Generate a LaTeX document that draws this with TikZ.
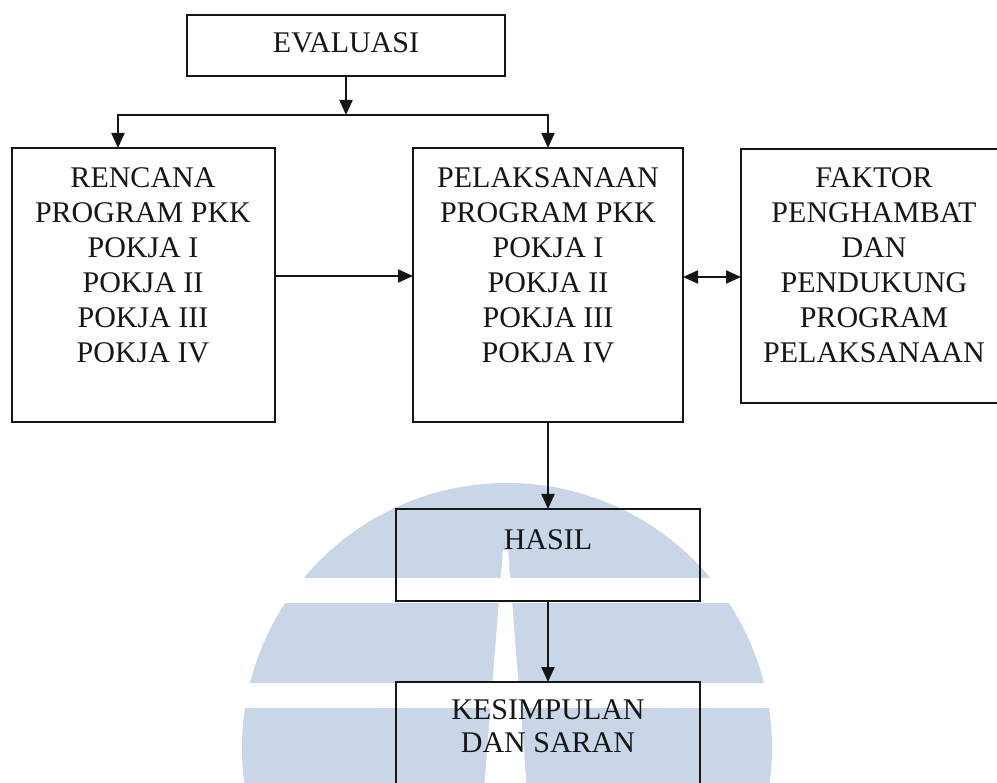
\documentclass[tikz,border=0pt]{standalone}
\usepackage{fontspec}
\setmainfont{Liberation Serif}
\usetikzlibrary{arrows.meta}
\definecolor{wm}{RGB}{200,214,232}
\definecolor{ink}{RGB}{22,22,22}
\begin{document}
\begin{tikzpicture}[x=1pt,y=-1pt,
  box/.style={draw=ink, line width=2.2pt, inner sep=0pt, outer sep=0pt, anchor=north west},
  lbl/.style={text=ink, font=\fontsize{30}{35}\selectfont, inner sep=0pt, align=center},
  conn/.style={draw=ink, line width=2.1pt},
  arr/.style={conn, -{Triangle[length=15pt,width=13pt]}},
  darr/.style={conn, {Triangle[length=15pt,width=13pt]}-{Triangle[length=15pt,width=13pt]}},
]
\useasboundingbox (0,0) rectangle (997,783);
\clip (0,0) rectangle (997,783);
% watermark
\fill[wm] (507,748) circle[radius=265pt];
\fill[white] (230,578) rectangle (790,603);
\fill[white] (230,683) rectangle (790,708);
\fill[white] (503,550) -- (508,550) -- (527,790) -- (484,790) -- cycle;
% boxes
\node[box, minimum width=318pt, minimum height=61pt] (eval) at (187,15) {};
\node[box, minimum width=263pt, minimum height=274pt] (renc) at (12,148) {};
\node[box, minimum width=270pt, minimum height=274pt] (pel) at (413,148) {};
\node[box, minimum width=280pt, minimum height=254pt] (fak) at (741,149) {};
\node[box, minimum width=304pt, minimum height=92pt] (hasil) at (396,509) {};
\node[box, minimum width=304pt, minimum height=130pt] (kes) at (396,682) {};
% texts
\node[lbl, anchor=base] (tEval) at (346,53) {EVALUASI};
\node[lbl, anchor=north] (tRenc) at (143,167) {RENCANA\\PROGRAM PKK\\POKJA I\\POKJA II\\POKJA III\\POKJA IV};
\node[lbl, anchor=north] (tPel) at (548,167) {PELAKSANAAN\\PROGRAM PKK\\POKJA I\\POKJA II\\POKJA III\\POKJA IV};
\node[lbl, anchor=north] (tFak) at (874,167) {FAKTOR\\PENGHAMBAT\\DAN\\PENDUKUNG\\PROGRAM\\PELAKSANAAN};
\node[lbl, anchor=base] (tHasil) at (548,550) {HASIL};
\node[lbl, anchor=north, font=\fontsize{30}{33}\selectfont] (tKes) at (548,699) {KESIMPULAN\\DAN SARAN};
% connectors
\coordinate (jL) at (118,115);
\coordinate (jR) at (pel.north |- jL);
\coordinate (rowA) at (0,276);
\coordinate (rowB) at (0,277);
\draw[arr] (eval.south) -- (eval.south |- jL);
\draw[conn, line cap=rect] (jL) -- (jR);
\draw[arr] (jL) -- (jL |- renc.north);
\draw[arr] (jR) -- (pel.north);
\draw[arr] (renc.east |- rowA) -- (pel.west |- rowA);
\draw[darr] (pel.east |- rowB) -- (fak.west |- rowB);
\draw[arr] (pel.south) -- (hasil.north);
\draw[arr] (hasil.south) -- (kes.north);
\end{tikzpicture}
\end{document}
